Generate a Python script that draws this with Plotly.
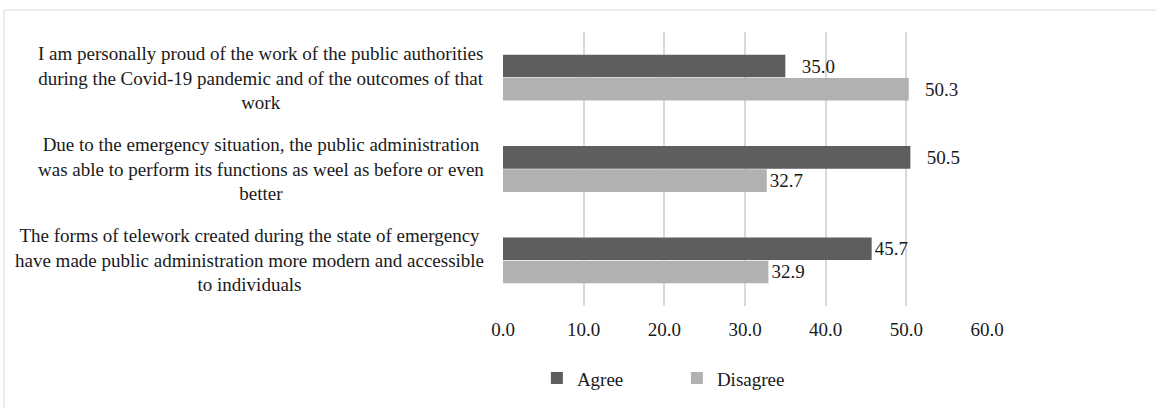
import plotly.graph_objects as go

categories = [
    "I am personally proud of the work of the public authorities<br>during the Covid-19 pandemic and of the outcomes of that<br>work",
    "Due to the emergency situation, the public administration<br>was able to perform its functions as weel as before or even<br>better",
    "The forms of telework created during the state of emergency<br>have made public administration more modern and accessible<br>to individuals",
]
agree = [35.0, 50.5, 45.7]
disagree = [50.3, 32.7, 32.9]
tick_vals = [0, 10, 20, 30, 40, 50, 60]
tick_text = ["0.0", "10.0", "20.0", "30.0", "40.0", "50.0", "60.0"]

# label padding (style only)
PAD = "\u2002\u2009"
agree_pad = [PAD, PAD, ""]
dis_pad = [PAD, "", ""]

FONT = "Liberation Serif"
FS = 19
TXT = "#1a1a1a"
ids = ["c0", "c1", "c2"]

fig = go.Figure()
fig.add_trace(go.Bar(
    name="Agree", y=ids, x=agree, orientation="h",
    marker=dict(color="#5e5e5e", line=dict(width=0)),
    text=[p + f"{v:.1f}" for p, v in zip(agree_pad, agree)],
    textposition="outside", constraintext="none", cliponaxis=False,
    textfont=dict(family=FONT, size=FS, color=TXT),
))
fig.add_trace(go.Bar(
    name="Disagree", y=ids, x=disagree, orientation="h",
    marker=dict(color="#b1b1b1", line=dict(width=0)),
    text=[p + f"{v:.1f}" for p, v in zip(dis_pad, disagree)],
    textposition="outside", constraintext="none", cliponaxis=False,
    textfont=dict(family=FONT, size=FS, color=TXT),
))

for cid, label in zip(ids, categories):
    fig.add_annotation(
        x=-0.035, xref="paper", y=cid, yref="y", text=label,
        xanchor="right", yanchor="middle", align="center", showarrow=False,
        yshift=0, font=dict(family=FONT, size=FS, color=TXT),
    )

fig.add_shape(type="rect", xref="paper", yref="paper",
              x0=-1.031, x1=1.37, y0=-0.4, y1=1.08,
              line=dict(color="#d9d9d9", width=1), fillcolor="rgba(0,0,0,0)", layer="below")

fig.update_layout(
    width=1156, height=408,
    margin=dict(l=503, r=169, t=32, b=101),
    paper_bgcolor="white", plot_bgcolor="white",
    barmode="group", bargap=0.49, bargroupgap=0.03,
    font=dict(family=FONT, size=FS, color=TXT),
    xaxis=dict(range=[0, 60], tickvals=tick_vals, ticktext=tick_text,
               showgrid=True, gridcolor="#d9d9d9", gridwidth=1.5,
               zeroline=False, showline=False, ticks="", ticklabelstandoff=10,
               tickfont=dict(family=FONT, size=FS, color=TXT)),
    yaxis=dict(autorange="reversed", showticklabels=False, showgrid=False,
               zeroline=False, showline=False, ticks=""),
    legend=dict(orientation="h", x=0.07, xanchor="left", y=-0.19, yanchor="top",
                font=dict(family=FONT, size=FS, color=TXT),
                entrywidth=95, itemwidth=30),
    showlegend=True,
)

fig.write_html("out.html")
